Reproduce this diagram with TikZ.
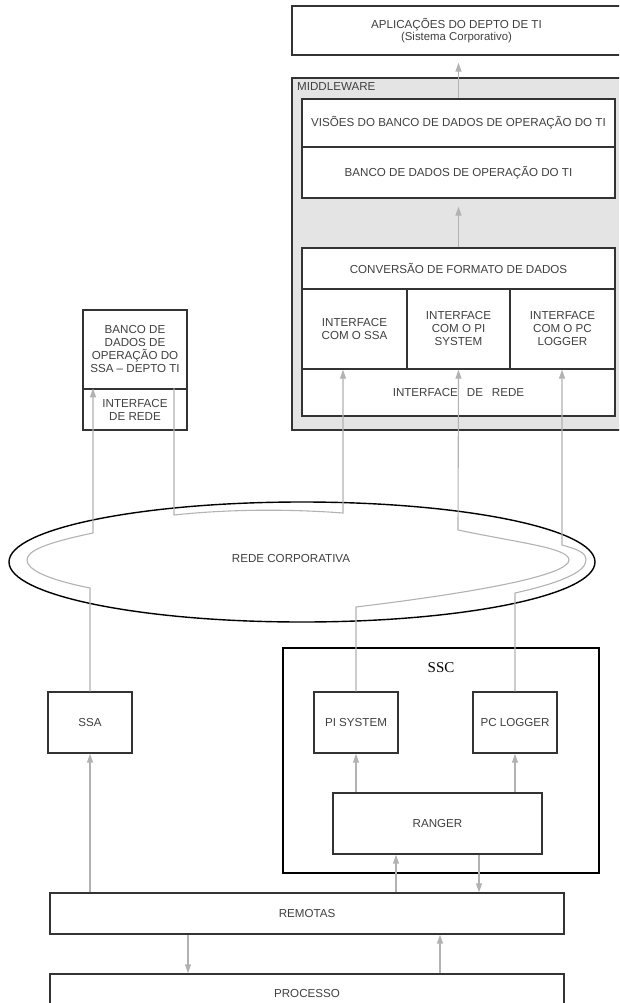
\documentclass[tikz,border=0pt]{standalone}
\usepackage{fontspec}
\setmainfont{Liberation Sans}
\newfontfamily\sscfont{Liberation Serif}
\usetikzlibrary{arrows.meta,shapes.geometric}
\definecolor{boxline}{HTML}{333333}
\definecolor{arrgray}{HTML}{B2B2B2}
\definecolor{mwfill}{HTML}{E4E4E4}
\definecolor{txt}{HTML}{404040}
\begin{document}
\begin{tikzpicture}[x=1pt,y=-1pt,
  box/.style={draw=boxline, line width=1.4pt, fill=white, text=txt,
    font=\fontsize{11.6}{13}\selectfont, align=center, inner sep=0pt},
  lbl/.style={text=txt, font=\fontsize{11.6}{13}\selectfont, inner sep=0pt},
  arr/.style={draw=arrgray, line width=1.2pt, -{Triangle[width=6pt,length=9pt]}},
  net/.style={draw=arrgray, line width=1.1pt, -{Triangle[width=6pt,length=9pt]}},
]
\useasboundingbox (0,0) rectangle (619,1003);
\begin{scope}
\clip (0,0) rectangle (619,1003);
% ---------- top ----------
\node[box, minimum width=329pt, minimum height=49pt] (apl) at (456.5,30.5)
  {APLICAÇÕES DO DEPTO DE TI\\[-1.5pt]{\fontsize{11.4}{12}\selectfont (Sistema Corporativo)}};
\node[box, fill=mwfill, minimum width=329pt, minimum height=352pt] (mw) at (456.5,254) {};
\node[lbl, anchor=west] (mwlbl) at (297,87) {MIDDLEWARE};
\node[box, minimum width=313pt, minimum height=48pt] (visoes) at (458.5,123)
  {VISÕES DO BANCO DE DADOS DE OPERAÇÃO DO TI};
\node[box, minimum width=313pt, minimum height=51pt] (banco) at (458.5,172.5)
  {BANCO DE DADOS DE OPERAÇÃO DO TI};
\node[box, minimum width=313pt, minimum height=41pt] (conv) at (458.5,268.5)
  {CONVERSÃO DE FORMATO DE DADOS};
\node[box, minimum width=105pt, minimum height=80pt] (ifcssa) at (354.5,329)
  {INTERFACE\\COM O SSA};
\node[box, minimum width=103pt, minimum height=80pt] (ifcpi) at (458.5,329)
  {INTERFACE\\COM O PI\\SYSTEM};
\node[box, minimum width=105pt, minimum height=80pt] (ifcpc) at (562.5,329)
  {INTERFACE\\COM O PC\\LOGGER};
\node[box, minimum width=313pt, minimum height=47pt] (ifrede) at (458.5,392.5)
  {INTERFACE\hspace{9pt}DE\hspace{9pt}REDE};
% ---------- SSA database ----------
\node[box, minimum width=104pt, minimum height=79pt] (dbssa) at (135,349.5)
  {BANCO DE\\DADOS DE\\OPERAÇÃO DO\\SSA – DEPTO TI};
\node[box, minimum width=104pt, minimum height=41pt] (ifssa) at (135,409.5)
  {INTERFACE\\DE REDE};
% ---------- network ----------
\node[draw=black, line width=1.4pt, ellipse, minimum width=586pt, minimum height=120pt, inner sep=0pt] (rede) at (302,562) {};
\node[lbl] (redelbl) at (291,559) {REDE CORPORATIVA};
% ---------- SSC ----------
\node[draw=black, line width=1.3pt, minimum width=316pt, minimum height=225pt, inner sep=0pt] (ssc) at (441,760.5) {};
\node[inner sep=0pt, font=\sscfont\fontsize{15}{17}\selectfont] (ssclbl) at (441,668) {SSC};
\node[box, minimum width=84pt, minimum height=61pt] (ssa) at (90,722.5) {SSA};
\node[box, minimum width=84pt, minimum height=61pt] (pi) at (356,722.5) {PI SYSTEM};
\node[box, minimum width=84pt, minimum height=61pt] (pc) at (515,722.5) {PC LOGGER};
\node[box, minimum width=209pt, minimum height=61pt] (ranger) at (437.5,823.5) {RANGER};
\node[box, minimum width=514pt, minimum height=41pt] (remotas) at (307,913.5) {REMOTAS};
\node[box, minimum width=514pt, minimum height=38pt] (processo) at (307,993) {PROCESSO};
% ---------- x positions ----------
\coordinate (xa) at (188,0);
\coordinate (xb) at (440,0);
\coordinate (xc) at (396,0);
\coordinate (xd) at (479,0);
\coordinate (x1) at (93,0);
\coordinate (x2) at (174,0);
\coordinate (x3) at (343,0);
\coordinate (x4) at (562,0);
% ---------- arrows ----------
\draw[arr, shorten >=7pt] (visoes.north) -- (apl.south -| visoes.north);
\draw[arr, shorten >=8pt] (conv.north) -- (banco.south);
\draw[arr] (ssa.south |- remotas.north) -- (ssa.south);
\draw[arr] (remotas.south -| xa) -- (processo.north -| xa);
\draw[arr] (processo.north -| xb) -- (remotas.south -| xb);
\draw[arr] (remotas.north -| xc) -- (ranger.south -| xc);
\draw[arr] (ranger.south -| xd) -- (remotas.north -| xd);
\draw[arr] (pi.south |- ranger.north) -- (pi.south);
\draw[arr] (pc.south |- ranger.north) -- (pc.south);
% ---------- network paths ----------
\draw[net] (ssa.north) -- (90,588) .. controls (45,579) and (27,569) .. (27,560)
  .. controls (27,551) and (45,543) .. (93,533) -- (ifssa.north -| x1);
\draw[net] (ifssa.north -| x2) -- (174,515) .. controls (230,509) and (290,509) .. (343,513)
  -- (ifcssa.south -| x3);
\draw[net] (pi.north) -- (356,607) .. controls (480,592) and (569,575) .. (569,560)
  .. controls (569,548) and (520,543) .. (458,530) -- (ifcpi.south);
\draw[net] (pc.north) -- (515,593) .. controls (560,583) and (586,572) .. (586,560)
  .. controls (586,552) and (576,549) .. (562,545) -- (ifcpc.south -| x4);
\end{scope}
\end{tikzpicture}
\end{document}
